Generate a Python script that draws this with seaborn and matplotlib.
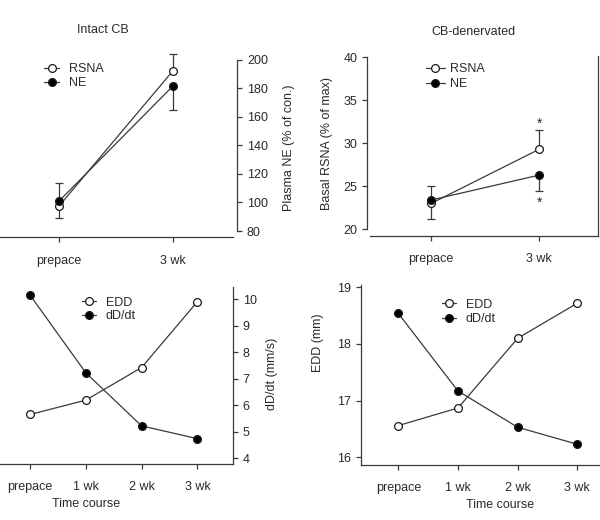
import matplotlib
matplotlib.use("Agg")
import matplotlib.pyplot as plt
import seaborn as sns

# ---------------- data ----------------
top_cats = ["prepace", "3 wk"]
# Intact CB
intact_rsna = [97.5, 192.5]
intact_rsna_err_lo = [8.5, 0.0]
intact_rsna_err_hi = [0.0, 11.5]
intact_ne = [101.0, 181.8]
intact_ne_err_lo = [0.0, 17.0]
intact_ne_err_hi = [12.5, 0.0]
intact_yticks = [80, 100, 120, 140, 160, 180, 200]

# CB-denervated
den_rsna = [23.0, 29.3]
den_rsna_err_lo = [1.8, 0.0]
den_rsna_err_hi = [0.0, 2.2]
den_ne = [23.4, 26.3]
den_ne_err_lo = [0.0, 1.8]
den_ne_err_hi = [1.6, 0.0]
den_star_y = [32.3, 23.1]
den_yticks = [20, 25, 30, 35, 40]

bottom_cats = ["prepace", "1 wk", "2 wk", "3 wk"]
# Left bottom panel (values in right-axis units)
bl_edd = [5.65, 6.19, 7.42, 9.9]
bl_dddt = [10.15, 7.22, 5.22, 4.74]
bl_yticks = [4, 5, 6, 7, 8, 9, 10]

# Right bottom panel
br_edd = [16.56, 16.87, 18.10, 18.72]
br_dddt = [18.54, 17.17, 16.53, 16.23]
br_yticks = [16, 17, 18, 19]

# ---------------- style ----------------
sns.set_style("white")
plt.rcParams["font.family"] = ["Liberation Sans", "DejaVu Sans"]
TXT = "#2a2a2a"
LN = "#3a3a3a"
FS = 9
plt.rcParams.update({
    "axes.edgecolor": LN, "axes.linewidth": 0.9,
    "xtick.color": LN, "ytick.color": LN,
    "xtick.labelcolor": TXT, "ytick.labelcolor": TXT,
    "xtick.labelsize": FS, "ytick.labelsize": FS,
    "xtick.major.size": 3.5, "ytick.major.size": 3.5,
    "xtick.major.width": 0.9, "ytick.major.width": 0.9,
    "xtick.direction": "out", "ytick.direction": "out",
    "xtick.bottom": True, "ytick.left": True,
})

W, H = 600, 520
fig = plt.figure(figsize=(6, 5.2), dpi=100)


def px_axes(left, top, right, bottom):
    return fig.add_axes([left / W, 1 - bottom / H, (right - left) / W, (bottom - top) / H])


def draw_series(ax, cats, vals, filled, label):
    sns.lineplot(x=cats, y=vals, ax=ax, sort=False, color=LN, linewidth=0.9,
                 marker="o", markersize=5.6,
                 markerfacecolor=("black" if filled else "white"),
                 markeredgecolor="#1a1a1a", markeredgewidth=0.9, label=label)


def errs(ax, cats, vals, lo, hi):
    ax.errorbar(cats, vals, yerr=[lo, hi], fmt="none", ecolor=LN,
                elinewidth=0.9, capsize=3, capthick=0.9, zorder=1)


def legend(ax, x, y, hl, pad, spacing):
    h, l = ax.get_legend_handles_labels()
    ax.legend(h, l, loc="upper left", bbox_to_anchor=(x / W, 1 - y / H),
              bbox_transform=fig.transFigure, frameon=False, fontsize=FS,
              handlelength=hl, handletextpad=pad, labelspacing=spacing,
              borderpad=0, borderaxespad=0, labelcolor=TXT)


# ---------- Top-left: Intact CB ----------
ax1 = px_axes(-60, 50, 233, 237.5)
draw_series(ax1, top_cats, intact_rsna, False, "RSNA")
draw_series(ax1, top_cats, intact_ne, True, "NE")
errs(ax1, top_cats, intact_rsna, intact_rsna_err_lo, intact_rsna_err_hi)
errs(ax1, top_cats, intact_ne, intact_ne_err_lo, intact_ne_err_hi)
ax1.set_xlim(-1.044, 1.526)
ax1.set_ylim(75.44, 207.0)
ax1.yaxis.tick_right()
ax1.set_yticks(intact_yticks)
ax1.spines["left"].set_visible(False)
ax1.spines["top"].set_visible(False)
ax1.spines["right"].set_bounds(80, 200)
ax1.spines["right"].set_position(("outward", 3))
ax1.tick_params(axis="x", pad=9)
ax1.set_xlabel("")
legend(ax1, 44, 63, 1.2, 0.8, 0.2)
fig.text(103 / W, 1 - 30 / H, "Intact CB", ha="center", va="center", fontsize=FS, color=TXT)
fig.text(289 / W, 1 - 148 / H, "Plasma NE (% of con.)", ha="center", va="center",
         rotation=90, fontsize=FS, color=TXT)

# ---------- Top-right: CB-denervated ----------
ax2 = px_axes(370, 50, 598, 236)
draw_series(ax2, top_cats, den_rsna, False, "RSNA")
draw_series(ax2, top_cats, den_ne, True, "NE")
errs(ax2, top_cats, den_rsna, den_rsna_err_lo, den_rsna_err_hi)
errs(ax2, top_cats, den_ne, den_ne_err_lo, den_ne_err_hi)
for yv in den_star_y:
    ax2.text(1, yv, "*", ha="center", va="center", fontsize=10, color=TXT)
ax2.set_xlim(-0.565, 1.546)
ax2.set_ylim(19.22, 40.85)
ax2.set_yticks(den_yticks)
ax2.spines["top"].set_visible(False)
ax2.spines["left"].set_bounds(20, 40)
ax2.spines["left"].set_position(("outward", 2))
ax2.spines["right"].set_bounds(19.22, 40.2)
ax2.tick_params(axis="x", pad=9)
legend(ax2, 426, 63.5, 1.5, 0.45, 0.2)
fig.text(473 / W, 1 - 32 / H, "CB-denervated", ha="center", va="center", fontsize=FS, color=TXT)
fig.text(327 / W, 1 - 143 / H, "Basal RSNA (% of max)", ha="center", va="center",
         rotation=90, fontsize=FS, color=TXT)

# ---------- Bottom-left ----------
ax3 = px_axes(-60, 283, 233, 464)
draw_series(ax3, bottom_cats, bl_edd, False, "EDD")
draw_series(ax3, bottom_cats, bl_dddt, True, "dD/dt")
ax3.set_xlim(-1.613, 3.638)
ax3.set_ylim(3.785, 10.603)
ax3.yaxis.tick_right()
ax3.set_yticks(bl_yticks)
ax3.spines["left"].set_visible(False)
ax3.spines["top"].set_visible(False)
ax3.spines["right"].set_bounds(3.785, 10.45)
ax3.tick_params(axis="x", pad=9)
ax3.set_xlabel("Time course", fontsize=FS, color=TXT, labelpad=3)
legend(ax3, 82, 296.5, 1.1, 0.8, 0.15)
fig.text(272 / W, 1 - 374 / H, "dD/dt (mm/s)", ha="center", va="center",
         rotation=90, fontsize=FS, color=TXT)

# ---------- Bottom-right ----------
ax4 = px_axes(361, 280, 640, 465)
draw_series(ax4, bottom_cats, br_edd, False, "EDD")
draw_series(ax4, bottom_cats, br_dddt, True, "dD/dt")
ax4.set_xlim(-0.625, 4.05)
ax4.set_ylim(15.864, 19.129)
ax4.set_yticks(br_yticks)
ax4.spines["right"].set_visible(False)
ax4.spines["top"].set_visible(False)
ax4.spines["left"].set_bounds(15.864, 19.04)
ax4.tick_params(axis="x", pad=9)
ax4.set_xlabel("Time course", fontsize=FS, color=TXT, labelpad=3)
legend(ax4, 442, 298.5, 1.1, 0.8, 0.2)
fig.text(318 / W, 1 - 343 / H, "EDD (mm)", ha="center", va="center",
         rotation=90, fontsize=FS, color=TXT)

fig.savefig("out.png", dpi=100)
